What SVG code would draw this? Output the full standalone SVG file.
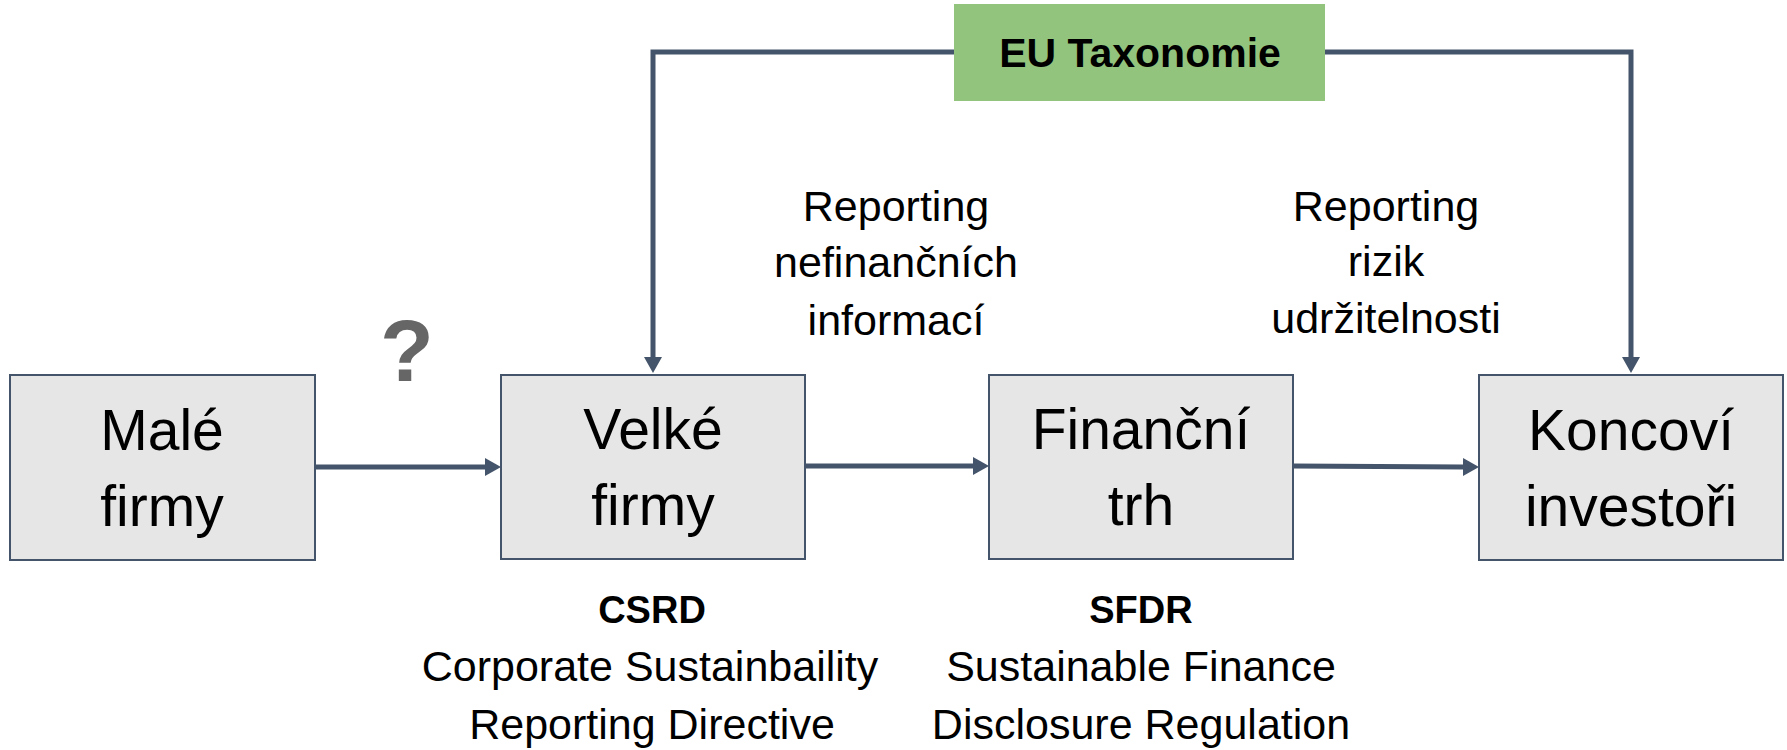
<svg xmlns="http://www.w3.org/2000/svg" width="1787" height="750" viewBox="0 0 1787 750">
<style>
.box{fill:#E7E6E6;stroke:#44546A;stroke-width:2}
.conn{fill:none;stroke:#44546A;stroke-width:5}
.big{font-family:"Liberation Sans",Arial,sans-serif;font-size:57px;fill:#000;text-anchor:middle}
.mid{font-family:"Liberation Sans",Arial,sans-serif;font-size:43px;fill:#000;text-anchor:middle}
.bold{font-family:"Liberation Sans",Arial,sans-serif;font-size:38px;font-weight:bold;fill:#000;text-anchor:middle}
</style>
<defs>
<marker id="arr" markerUnits="userSpaceOnUse" markerWidth="17" markerHeight="18" refX="0" refY="9" orient="auto">
<path d="M0,0 L16,9 L0,18 z" fill="#44546A"/>
</marker>
</defs>
<rect width="1787" height="750" fill="#fff"/>
<g id="connectors">
<path class="conn" d="M315,467 H485" marker-end="url(#arr)"/>
<path class="conn" d="M805,466 H973" marker-end="url(#arr)"/>
<path class="conn" d="M1293,466 L1463,467" marker-end="url(#arr)"/>
<path class="conn" d="M954,52 H653 V357" marker-end="url(#arr)"/>
<path class="conn" d="M1325,52 H1631 V357" marker-end="url(#arr)"/>
</g>
<g id="eu-taxonomie">
<rect x="954" y="4" width="371" height="97" fill="#93C47D"/>
<text class="bold" x="1140" y="67" style="font-size:41px">EU Taxonomie</text>
</g>
<g id="male-firmy">
<rect class="box" x="10" y="375" width="305" height="185"/>
<text class="big" x="162" y="450">Malé</text>
<text class="big" x="162" y="526">firmy</text>
</g>
<g id="question">
<text x="407" y="381" style="font-family:'Liberation Sans',Arial,sans-serif;font-size:88px;font-weight:bold;fill:#666;text-anchor:middle">?</text>
</g>
<g id="velke-firmy">
<rect class="box" x="501" y="375" width="304" height="184"/>
<text class="big" x="653" y="449">Velké</text>
<text class="big" x="653" y="525">firmy</text>
</g>
<g id="financni-trh">
<rect class="box" x="989" y="375" width="304" height="184"/>
<text class="big" x="1141" y="449">Finanční</text>
<text class="big" x="1141" y="525">trh</text>
</g>
<g id="koncovi-investori">
<rect class="box" x="1479" y="375" width="304" height="185"/>
<text class="big" x="1631" y="450">Koncoví</text>
<text class="big" x="1631" y="526">investoři</text>
</g>
<g id="label-nefinancni">
<text class="mid" x="896" y="221">Reporting</text>
<text class="mid" x="896" y="277">nefinančních</text>
<text class="mid" x="896" y="335">informací</text>
</g>
<g id="label-rizik">
<text class="mid" x="1386" y="221">Reporting</text>
<text class="mid" x="1386" y="276">rizik</text>
<text class="mid" x="1386" y="333">udržitelnosti</text>
</g>
<g id="label-csrd">
<text class="bold" x="652" y="623">CSRD</text>
<text class="mid" x="650" y="681">Corporate Sustainbaility</text>
<text class="mid" x="652" y="739">Reporting Directive</text>
</g>
<g id="label-sfdr">
<text class="bold" x="1141" y="623">SFDR</text>
<text class="mid" x="1141" y="681">Sustainable Finance</text>
<text class="mid" x="1141" y="739">Disclosure Regulation</text>
</g>
</svg>
